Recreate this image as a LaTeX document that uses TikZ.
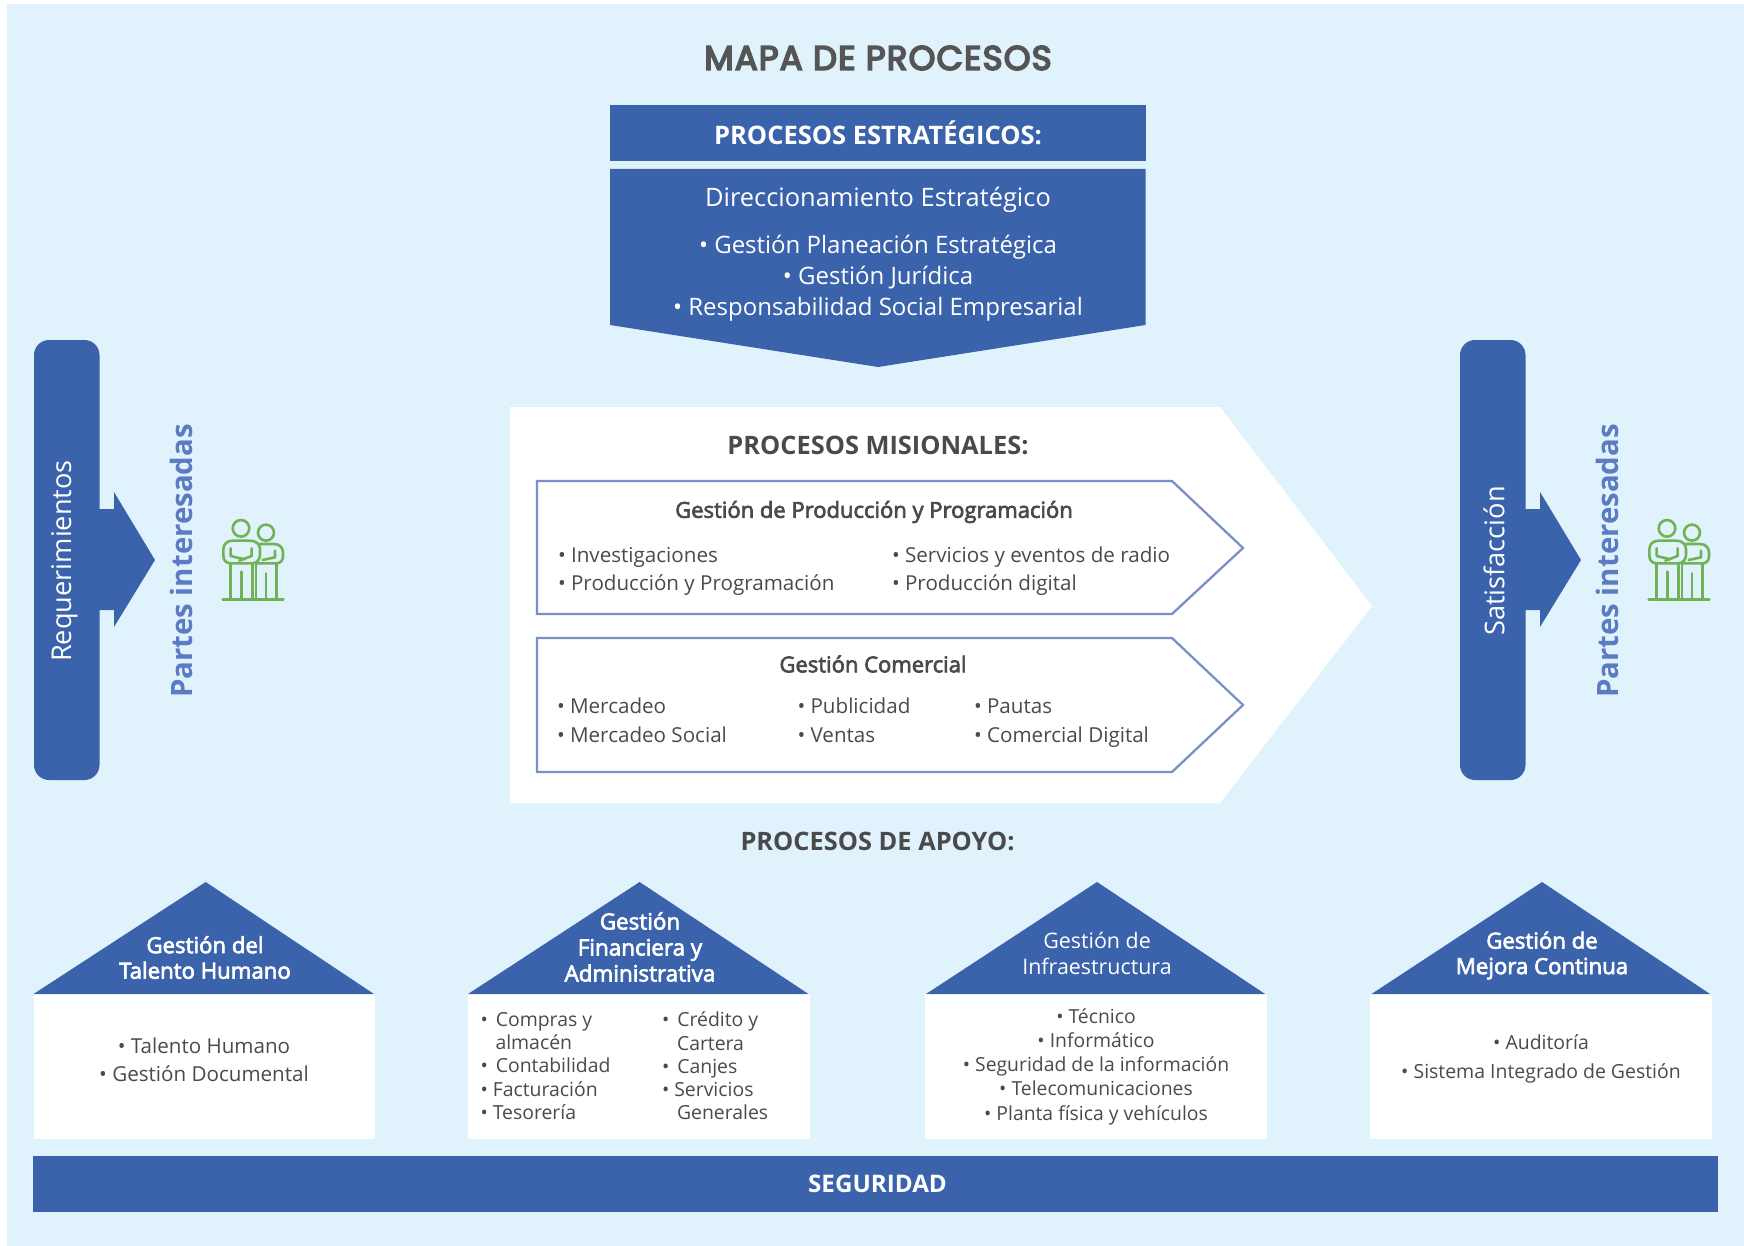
\documentclass[tikz,border=0pt]{standalone}
\usepackage{fontspec}
\setmainfont{Open Sans}
\newfontfamily\semib[FakeBold=3]{Open Sans}
\newfontfamily\titlefont[FakeBold=5,LetterSpace=3.5]{Poppins}
\definecolor{bgblue}{HTML}{E0F2FB}
\definecolor{mainblue}{HTML}{3B63AB}
\definecolor{lineblue}{HTML}{7B8FCB}
\definecolor{partes}{HTML}{5B7BC2}
\definecolor{ink}{HTML}{4A4A4A}
\definecolor{titleink}{HTML}{555555}
\definecolor{leaf}{HTML}{70B255}
\newcommand{\fs}[2]{\fontsize{#1}{#2}\selectfont}
\tikzset{
  x=1pt,y=-1pt,
  bluefill/.style={fill=mainblue,draw=none},
  whitefill/.style={fill=white,draw=none},
  chev/.style={fill=white,draw=lineblue,line width=2.3pt,line join=miter},
  txt/.style={inner sep=0pt,outer sep=0pt,text=ink,align=center},
  txtl/.style={inner sep=0pt,outer sep=0pt,text=ink,align=left,anchor=west},
  wtxt/.style={inner sep=0pt,outer sep=0pt,text=white,align=center},
  people/.pic={
    \begin{scope}[x=0.3333pt,y=-0.3333pt,draw=leaf,line width=2.6pt,line cap=round,line join=round]
      \draw (123,85) circle (8.3pt);
      \draw (198,98) circle (8pt);
      \draw (92,190) -- (92,298) (157,190) -- (157,298) (124,215) -- (124,298);
      \draw (168,190) -- (168,298) (230,190) -- (230,298) (198,220) -- (198,298);
      \draw (68,298) -- (250,298);
      \draw (92,190) .. controls (75,190) and (70,178) .. (70,165) -- (70,148) .. controls (70,132) and (82,122) .. (98,122) -- (150,122) .. controls (168,122) and (180,132) .. (180,148) -- (180,165) .. controls (180,178) and (170,190) .. (157,190) -- (92,190);
      \draw (92,145) -- (92,168) -- (133,178);
      \draw (155,145) -- (155,168) -- (118,182);
      \draw (180,132) -- (222,132) .. controls (238,132) and (249,142) .. (249,158) -- (249,170) .. controls (249,182) and (240,190) .. (230,190) -- (170,190);
      \draw (225,152) -- (225,172) -- (188,180);
    \end{scope}
  }
}
\begin{document}
\begin{tikzpicture}
\useasboundingbox (0,0) rectangle (1744,1246);
\fill[white] (0,0) rectangle (1744,1246);
\fill[bgblue] (7,4) rectangle (1744,1246);

\node[txt,text=titleink,font=\titlefont\fs{34}{38}] (title) at (878,58) {MAPA DE PROCESOS};

% strategic
\fill[bluefill] (610,105) rectangle (1146,161);
\node[wtxt,font=\bfseries\fs{25.5}{30}] (estr) at (878,132.5) {PROCESOS ESTRATÉGICOS:};
\fill[bluefill] (610,169) -- (1145.5,169) -- (1145.5,325) -- (878,367) -- (610,325) -- cycle;
\node[wtxt,font=\fs{25.4}{30}] (direc) at (878,200) {Direccionamiento Estratégico};
\node[wtxt,font=\fs{24}{31}] (direclist) at (878,278.5) {• Gestión Planeación Estratégica\\• Gestión Jurídica\\• Responsabilidad Social Empresarial};

% side bars
\foreach \dx/\nm in {0/left,1426/right}{
  \begin{scope}[xshift=\dx pt]
    \fill[bluefill,rounded corners=15pt] (34,340) rectangle (99.5,780);
    \fill[bluefill] (99,509) -- (114,509) -- (114,492) -- (155,560) -- (114,627) -- (114,610) -- (99,610) -- cycle;
    \node[txt,text=partes,rotate=90,font=\bfseries\fs{29.4}{32}] (partes\nm) at (181.5,561) {Partes interesadas};
    \pic at (200,500) {people};
  \end{scope}
}
\node[wtxt,rotate=90,font=\fs{27.2}{30}] (req) at (64.5,561) {Requerimientos};
\node[wtxt,rotate=90,font=\fs{27.2}{30}] (sat) at (1494,561) {Satisfacción};

% missional
\fill[whitefill] (510,407) -- (1220,407) -- (1372,606) -- (1220,803) -- (510,803) -- cycle;
\node[txt,font=\bfseries\fs{25.4}{30}] (mis) at (878,445.5) {PROCESOS MISIONALES:};
\draw[chev] (537,481) -- (1172,481) -- (1243,548) -- (1172,614) -- (537,614) -- cycle;
\node[txt,font=\semib\fs{22}{28}] (prod) at (874,512) {Gestión de Producción y Programación};
\node[txtl,font=\fs{20.6}{28.5}] (prodA) at (558,571.5) {• Investigaciones\\• Producción y Programación};
\node[txtl,font=\fs{20.6}{28.5}] (prodB) at (892,571) {• Servicios y eventos de radio\\• Producción digital};
\draw[chev] (537,638) -- (1172,638) -- (1243,705) -- (1172,772) -- (537,772) -- cycle;
\node[txt,font=\semib\fs{22}{28}] (com) at (873,664) {Gestión Comercial};
\node[txtl,font=\fs{20.6}{29}] (comA) at (557,720.5) {• Mercadeo\\• Mercadeo Social};
\node[txtl,font=\fs{20.6}{29}] (comB) at (797.5,720.5) {• Publicidad\\• Ventas};
\node[txtl,font=\fs{20.6}{29}] (comC) at (974,723.5) {• Pautas\\• Comercial Digital};

% support
\node[txt,font=\bfseries\fs{25.4}{30}] (apoyo) at (877.5,841.5) {PROCESOS DE APOYO:};
\foreach \l/\r/\a/\tl/\tr in {33.5/375/205.7/33.5/374,468/809.5/639.6/468/808.5,925/1267/1097/926/1265,1370/1712/1542/1371.5/1710}{
  \fill[whitefill] (\l,994) rectangle (\r,1138.7);
  \fill[bluefill] (\tl,994) -- (\a,882) -- (\tr,994) -- cycle;
}
\node[wtxt,font=\semib\fs{22.2}{25.5}] (h1) at (205,957.5) {Gestión del\\Talento Humano};
\node[txt,font=\fs{20.6}{28}] (b1) at (204,1059.5) {• Talento Humano\\• Gestión Documental};
\node[wtxt,font=\semib\fs{22.4}{26}] (h2) at (640,947) {Gestión\\Financiera y\\Administrativa};
\node[txtl,font=\fs{19.4}{23.2}] (b2a) at (480.5,1066) {• \hspace{3pt}Compras y\\\hspace{15pt}almacén\\• \hspace{3pt}Contabilidad\\• Facturación\\• Tesorería};
\node[txtl,font=\fs{19.4}{23.2}] (b2b) at (662,1066) {• \hspace{3pt}Crédito y\\\hspace{15pt}Cartera\\• \hspace{3pt}Canjes\\• Servicios\\\hspace{15pt}Generales};
\node[wtxt,font=\fs{21.4}{25.5}] (h3) at (1097,953.5) {Gestión de\\Infraestructura};
\node[txt,font=\fs{19.35}{24.2}] (b3) at (1096,1066.5) {• Técnico\\• Informático\\• Seguridad de la información\\• Telecomunicaciones\\• Planta física y vehículos};
\node[wtxt,font=\semib\fs{22.2}{25.5}] (h4) at (1542,955.5) {Gestión de\\Mejora Continua};
\node[txt,font=\fs{19.45}{29}] (b4) at (1541,1058.5) {• Auditoría\\• Sistema Integrado de Gestión};

\fill[bluefill] (33,1156) rectangle (1718,1212);
\node[wtxt,font=\bfseries\fs{24.2}{28}] (seg) at (877.5,1184) {SEGURIDAD};
\end{tikzpicture}
\end{document}
